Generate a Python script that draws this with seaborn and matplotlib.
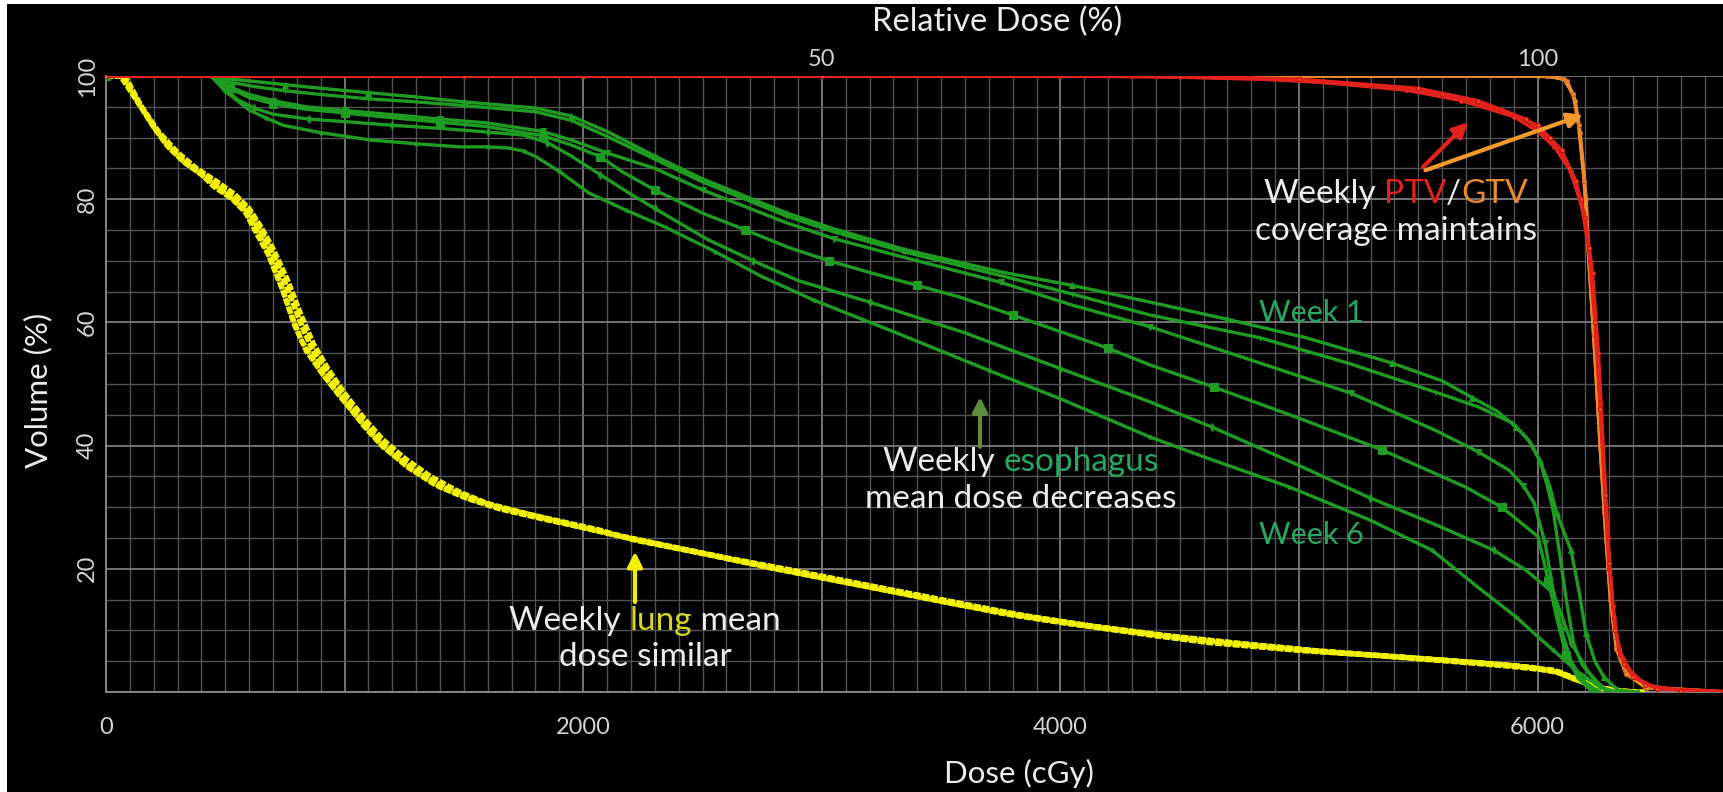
import matplotlib
matplotlib.use("Agg")
import matplotlib.pyplot as plt
import numpy as np
import pandas as pd
import seaborn as sns
from matplotlib.offsetbox import TextArea, HPacker, VPacker, AnnotationBbox
from matplotlib.patches import Rectangle
from matplotlib.ticker import MultipleLocator, FuncFormatter

# ---------------- DVH data: dose (cGy) -> volume (%) ----------------
# Lung, weekly
lung1_dose = [0, 70, 130, 200, 260, 330, 400, 453, 530, 585, 630, 680, 742, 790, 840, 920, 1000, 1080,
              1160, 1280, 1400, 1520, 1640, 1850, 2070, 2210, 2500, 2770, 3050, 3330, 3750, 4000, 4380,
              4600, 4990, 5300, 5600, 5850, 6065, 6140, 6250, 6350, 6450]
lung1_vol = [100, 100, 96, 91.7, 88.5, 85.9, 84, 82, 80, 77.8, 74.5, 71, 65, 59.5, 55.3, 51, 47.2, 43.2,
             39.8, 36.2, 33.3, 31.5, 30, 28.2, 26.3, 24.7, 22.5, 20.3, 18.2, 16.1, 12.8, 11.3, 9.3,
             8.2, 6.8, 6.0, 5.2, 4.4, 3.6, 2.4, 0.8, 0.1, 0]
lung2_dose = [0, 70, 140, 210, 280, 350, 430, 500, 570, 620, 670, 720, 780, 830, 880, 960, 1040, 1120,
              1200, 1300, 1420, 1540, 1660, 1860, 2080, 2250, 2520, 2800, 3080, 3350, 3780, 4030, 4400,
              4620, 5010, 5320, 5620, 5870, 6070, 6150, 6260, 6360, 6450]
lung2_vol = [100, 100, 95.5, 91.2, 88, 85.5, 83.5, 81.5, 79.5, 77, 73.5, 69.5, 63.5, 58.5, 54.5, 49.8,
             45.5, 41.7, 38.6, 35.8, 33.2, 31.3, 29.8, 28.0, 26.0, 24.4, 22.3, 20.0, 17.9, 15.9, 12.6,
             11.1, 9.1, 8.0, 6.7, 5.9, 5.0, 4.2, 3.4, 2.1, 0.7, 0.1, 0]
lung3_dose = [0, 80, 150, 220, 300, 380, 460, 540, 600, 650, 700, 760, 820, 870, 930, 1000, 1080, 1160,
              1250, 1360, 1480, 1600, 1760, 1960, 2150, 2400, 2650, 2900, 3200, 3550, 3900, 4200, 4500,
              4800, 5150, 5450, 5750, 5980, 6100, 6200, 6300, 6400]
lung3_vol = [100, 100, 95, 91, 87.6, 85, 83, 80.8, 78.5, 75.5, 72, 67, 61, 56.5, 52.5, 48.5, 44.5, 41,
             38, 35, 32.5, 30.6, 29, 27, 25.3, 23.3, 21.3, 19.3, 17, 14.3, 12, 10.3, 8.8,
             7.6, 6.4, 5.6, 4.8, 4.0, 3.0, 1.4, 0.3, 0]
lung4_dose = [0, 60, 120, 190, 250, 320, 390, 450, 520, 575, 620, 665, 720, 770, 820, 900, 980, 1060,
              1150, 1260, 1380, 1500, 1650, 1850, 2050, 2300, 2600, 2900, 3200, 3500, 3850, 4150, 4450,
              4750, 5100, 5400, 5700, 5950, 6080, 6180, 6280, 6400]
lung4_vol = [100, 100, 96.5, 92.3, 89, 86.3, 84.3, 82.5, 80.3, 78.5, 75.8, 72.5, 67.5, 62, 57, 52, 48,
             44.3, 40.3, 36.6, 33.6, 31.6, 29.7, 27.9, 26.3, 24.1, 21.8, 19.6, 17.3, 15.0, 12.4, 10.6,
             9.1, 7.9, 6.6, 5.8, 4.9, 4.1, 3.2, 1.8, 0.5, 0]
lung5_dose = [0, 75, 135, 205, 270, 340, 415, 480, 555, 610, 660, 705, 760, 810, 860, 940, 1020, 1100,
              1180, 1290, 1410, 1530, 1700, 1900, 2100, 2350, 2620, 2880, 3150, 3450, 3800, 4100, 4420,
              4700, 5050, 5350, 5650, 5900, 6090, 6190, 6300, 6420]
lung5_vol = [100, 100, 95.8, 91.5, 88.2, 85.7, 83.7, 81.8, 79.6, 77.2, 74, 70.5, 65.5, 60.5, 56, 51.3,
             47, 43, 39.5, 36, 33.2, 31.2, 29.3, 27.6, 25.8, 23.8, 21.6, 19.7, 17.6, 15.4, 12.7, 10.9,
             9.3, 8.1, 6.8, 5.9, 5.0, 4.3, 3.3, 1.7, 0.4, 0]

# Esophagus, week 1 to week 6
eso_w1_dose = [0, 420, 500, 600, 750, 900, 1100, 1300, 1500, 1800, 1950, 2100, 2300, 2500, 2850, 3050,
               3350, 3750, 4050, 4375, 4700, 5030, 5390, 5600, 5725, 5830, 5910, 5970, 6010, 6050, 6080,
               6110, 6140, 6175, 6202, 6240, 6278, 6337, 6420]
eso_w1_vol = [100, 100, 99.6, 99.2, 98.6, 98, 97.3, 96.6, 95.8, 94.8, 93.5, 91, 87, 83.3, 77.8, 75.2,
              71.8, 68.2, 66, 63.3, 60.5, 57.5, 53.4, 50.5, 47.8, 45.6, 43, 40.5, 37.5, 33.5, 29,
              26, 23, 16, 9.6, 5, 2.4, 0.3, 0]
eso_w2_dose = [0, 430, 520, 620, 750, 900, 1100, 1300, 1500, 1800, 1950, 2100, 2300, 2500, 2850, 3050,
               3350, 3750, 4050, 4375, 4836, 5205, 5570, 5750, 5893, 5960, 6010, 6040, 6065, 6090, 6120,
               6150, 6185, 6215, 6260, 6310]
eso_w2_vol = [100, 100, 99, 98.3, 97.6, 97, 96.3, 95.8, 95.2, 94.2, 92.8, 90.2, 86.5, 82.8, 77.3, 74.7,
              71.4, 67.6, 64.6, 61.2, 57.5, 53.4, 48.7, 46.3, 43.7, 41, 37.5, 33.5, 29.5, 23, 15,
              8, 4.5, 3.1, 1, 0]
eso_w3_dose = [0, 440, 500, 600, 700, 838, 1000, 1207, 1400, 1593, 1831, 1950, 2100, 2300, 2500, 2850,
               3050, 3350, 3750, 4050, 4375, 4836, 5218, 5570, 5750, 5880, 5940, 5985, 6031, 6065, 6100,
               6140, 6190, 6260]
eso_w3_vol = [100, 100, 98.5, 97, 96, 95, 94.4, 93.7, 93, 92.4, 91, 89.6, 87.5, 85, 81.5, 76.2,
              73.6, 70.5, 66.5, 62.8, 59.3, 53.4, 48.5, 42.5, 39, 36, 33.5, 30.7, 24.2, 16.5, 10,
              5, 1.8, 0]
eso_w4_dose = [0, 450, 520, 600, 700, 838, 1000, 1207, 1400, 1593, 1831, 1950, 2071, 2166, 2300, 2502,
               2680, 2858, 3030, 3210, 3400, 3579, 3800, 4000, 4200, 4375, 4643, 4996, 5348, 5696, 5850,
               6002, 6045, 6080, 6120, 6170, 6230]
eso_w4_vol = [100, 100, 98, 96.5, 95.5, 94.6, 94, 93.2, 92.5, 91.8, 90.3, 88.8, 86.9, 84.4, 81.5, 77.7,
              75, 72.2, 70, 68, 66, 64.1, 61.2, 58.5, 55.8, 53.1, 49.5, 44.5, 39.3, 33.3, 30,
              25.2, 18, 12, 6, 2.2, 0]
eso_w5_dose = [0, 440, 500, 550, 620, 700, 850, 1000, 1200, 1400, 1600, 1750, 1850, 1950, 2071, 2200,
               2300, 2519, 2712, 2900, 3200, 3600, 4000, 4375, 4635, 4958, 5298, 5570, 5817, 5950, 6065,
               6100, 6140, 6215, 6290]
eso_w5_vol = [100, 100, 98, 96.2, 94.8, 93.8, 93, 92.6, 92, 91.5, 90.9, 90.4, 89.2, 87, 84, 80.8,
              78.5, 73.5, 70, 66.8, 63.3, 58.3, 52.5, 47.1, 43, 37.5, 31.5, 27.2, 23, 19.8, 16.1,
              12.5, 8, 3.1, 0]
eso_w6_dose = [0, 440, 500, 599, 670, 742, 900, 1111, 1300, 1480, 1600, 1689, 1750, 1802, 1900, 2024,
               2180, 2342, 2552, 2745, 2967, 3300, 3700, 4000, 4375, 4606, 4958, 5298, 5558, 5750, 5909,
               6000, 6065, 6157, 6261, 6330]
eso_w6_vol = [100, 100, 97.5, 94.5, 93.2, 92, 90.8, 89.6, 89, 88.5, 88.5, 88.3, 87.8, 86.9, 84.5, 81,
              78.2, 75.5, 71.5, 67.5, 63.6, 58.5, 52.2, 47.6, 41.4, 38.1, 33.3, 27.9, 23, 17, 12.2,
              9, 6.8, 3.6, 0.8, 0]

# PTV, weekly
ptv1_dose = [0, 1500, 3000, 4000, 4500, 5000, 5450, 5680, 5900, 6000, 6070, 6140, 6190, 6220, 6245,
             6265, 6285, 6300, 6320, 6345, 6400, 6500, 6780]
ptv1_vol = [100, 100, 100, 100, 99.8, 99.3, 97.7, 96, 93.4, 91, 88.5, 84.5, 78, 70, 58,
            45, 30, 20, 12, 6, 2.4, 0.6, 0.1]
ptv2_dose = [0, 1500, 3000, 4300, 4800, 5300, 5600, 5850, 6000, 6100, 6160, 6200, 6230, 6255, 6275,
             6295, 6315, 6340, 6400, 6500, 6780]
ptv2_vol = [100, 100, 100, 100, 99.6, 98.5, 97, 94.5, 92, 88, 83, 77, 68, 55, 40,
            25, 14, 7, 2.5, 0.5, 0]
ptv3_dose = [0, 1500, 3000, 4500, 5000, 5500, 5750, 5950, 6050, 6130, 6180, 6215, 6240, 6262, 6282,
             6300, 6325, 6360, 6450, 6600, 6780]
ptv3_vol = [100, 100, 100, 100, 99.5, 98, 96, 93, 90, 85, 80, 72, 60, 46, 32,
            21, 10, 4.5, 1.2, 0.2, 0]

# GTV, weekly
gtv1_dose = [0, 2000, 4000, 6000, 6080, 6123, 6157, 6178, 6203, 6215, 6240, 6262, 6285, 6305, 6330,
             6370, 6450, 6780]
gtv1_vol = [100, 100, 100, 100, 99.8, 99.2, 96, 90.7, 80, 70, 55, 40, 26, 15, 7, 3, 0.8, 0]
gtv2_dose = [0, 2000, 4000, 6040, 6110, 6150, 6172, 6195, 6212, 6235, 6258, 6280, 6300, 6325, 6365,
             6460, 6780]
gtv2_vol = [100, 100, 100, 100, 99.5, 97, 92, 83, 72, 58, 43, 29, 18, 9, 3.5, 0.7, 0]

# Axis ticks
dose_ticks = [0, 2000, 4000, 6000]
volume_ticks = [20, 40, 60, 80, 100]
relative_ticks = [50, 100]
prescription_cgy = 60.0  # cGy per 1 % of relative dose

# ---------------- styling ----------------
sns.set_theme(style="dark")
FONT = ["Lato", "DejaVu Sans"]
plt.rcParams["font.family"] = FONT

WHITE = "#ececec"
TICK = "#d4d4d4"
LUNG = "#f2f200"
ESO = "#1f9d22"
PTV = "#e3221b"
GTV = "#ee8a2e"
ESO_TEXT = "#25a862"

fig = plt.figure(figsize=(17.24, 7.92), dpi=100)
fig.patch.set_facecolor("white")
fig.add_artist(Rectangle((7 / 1724, 0), 1, 1 - 4 / 792, transform=fig.transFigure,
                         facecolor="black", edgecolor="none", zorder=-10))

ax = fig.add_axes([106 / 1724, 100 / 792, 1618 / 1724, 616 / 792])
ax.set_facecolor("black")


def curve(dose, vol, **kw):
    df = pd.DataFrame({"dose": dose, "volume": vol})
    sns.lineplot(data=df, x="dose", y="volume", ax=ax, sort=False, estimator=None,
                 legend=False, **kw)


# lungs: thick dashed yellow traces
for d, v in [(lung1_dose, lung1_vol), (lung2_dose, lung2_vol), (lung3_dose, lung3_vol),
             (lung4_dose, lung4_vol), (lung5_dose, lung5_vol)]:
    curve(d, v, color=LUNG, lw=3.6, linestyle=(0, (1.4, 0.35)), zorder=3)

# esophagus weeks
eso_sets = [
    (eso_w1_dose, eso_w1_vol, "^", 4),
    (eso_w2_dose, eso_w2_vol, "|", 5),
    (eso_w3_dose, eso_w3_vol, "v", 4),
    (eso_w4_dose, eso_w4_vol, "s", 6),
    (eso_w5_dose, eso_w5_vol, "d", 4),
    (eso_w6_dose, eso_w6_vol, ".", 5),
]
for d, v, m, ms in eso_sets:
    curve(d, v, color=ESO, lw=2.4, marker=m, markersize=ms, markeredgecolor=ESO,
          markerfacecolor=ESO, markevery=2, zorder=4)

# GTV and PTV
for d, v in [(gtv1_dose, gtv1_vol), (gtv2_dose, gtv2_vol)]:
    curve(d, v, color=GTV, lw=2.6, marker="o", markersize=3, markeredgecolor="#c9661c",
          markerfacecolor=GTV, markevery=1, zorder=5)
for d, v in [(ptv1_dose, ptv1_vol), (ptv2_dose, ptv2_vol), (ptv3_dose, ptv3_vol)]:
    curve(d, v, color=PTV, lw=2.4, marker="o", markersize=3, markeredgecolor="#b8160f",
          markerfacecolor="#ff4a2a", markevery=1, zorder=6)

# ---------------- axes ----------------
ax.set_xlim(0, 6781)
ax.set_ylim(0, 100)
ax.xaxis.set_major_locator(MultipleLocator(1000))
ax.xaxis.set_minor_locator(MultipleLocator(100))
ax.yaxis.set_major_locator(MultipleLocator(20))
ax.yaxis.set_minor_locator(MultipleLocator(5))
ax.xaxis.set_major_formatter(FuncFormatter(lambda v, p: f"{v:.0f}" if round(v) in dose_ticks else ""))
ax.yaxis.set_major_formatter(FuncFormatter(lambda v, p: f"{v:.0f}" if round(v) in volume_ticks else ""))

ax.grid(which="minor", color="#525252", lw=1.0)
ax.grid(which="major", color="#7c7c7c", lw=1.3)
ax.set_axisbelow(True)
for s in ["top", "right"]:
    ax.spines[s].set_visible(False)
for s in ["left", "bottom"]:
    ax.spines[s].set_color("#8a8a8a")
    ax.spines[s].set_linewidth(1.3)

ax.tick_params(axis="x", which="major", colors="#8a8a8a", labelcolor=TICK, length=4,
               labelsize=17, pad=14)
ax.tick_params(axis="y", which="major", colors="#8a8a8a", labelcolor=TICK, length=4,
               labelsize=17, pad=2, labelrotation=90)
ax.tick_params(which="minor", length=0)
for lab in ax.get_yticklabels():
    lab.set_va("center")

ax.set_xlabel("Dose (cGy)", color=WHITE, fontsize=22.5)
ax.xaxis.set_label_coords(0.564, -0.1315)
ax.xaxis.label.set_va("center")
ax.set_ylabel("Volume (%)", color=WHITE, fontsize=22.5)
ax.yaxis.set_label_coords(-0.042, 0.49)
ax.yaxis.label.set_va("center")

top = ax.secondary_xaxis("top", functions=(lambda d: d / prescription_cgy,
                                           lambda r: r * prescription_cgy))
top.set_xticks(relative_ticks)
top.tick_params(length=0, labelcolor=TICK, labelsize=17, pad=4)
top.spines["top"].set_visible(False)
top.set_xlabel("Relative Dose (%)", color=WHITE, fontsize=23.5)
top.xaxis.set_label_coords(0.551, 1.0877, transform=ax.transAxes)
top.xaxis.label.set_va("center")


# ---------------- annotations ----------------
def rich_label(rows, xy, size, sep=0):
    packed = []
    for parts in rows:
        areas = [TextArea(txt, textprops=dict(color=col, fontsize=size, fontfamily=FONT))
                 for txt, col in parts]
        packed.append(HPacker(children=areas, align="baseline", pad=0, sep=0))
    box = VPacker(children=packed, align="center", pad=0, sep=sep)
    ab = AnnotationBbox(box, xy, xycoords="data", frameon=False, box_alignment=(0.5, 0.5),
                        pad=0, zorder=10)
    ax.add_artist(ab)


def arrow(tail, head, color):
    ax.annotate("", xy=head, xytext=tail, xycoords="data",
                arrowprops=dict(arrowstyle="-|>", color=color, lw=3, mutation_scale=22,
                                shrinkA=0, shrinkB=0), zorder=9)


rich_label([[("Weekly ", WHITE), ("PTV", PTV), ("/", WHITE), ("GTV", GTV)],
            [("coverage maintains", WHITE)]], (5406, 77.9), 24, sep=5)
arrow((5519, 85.2), (5708, 92.5), PTV)
arrow((5530, 84.7), (6190, 93.7), "#f39a2c")

rich_label([[("Weekly ", WHITE), ("esophagus", ESO_TEXT)],
            [("mean dose decreases", WHITE)]], (3834, 34.4), 24, sep=5)
arrow((3663, 39.8), (3663, 47.9), "#5c8c3c")

rich_label([[("Weekly ", WHITE), ("lung", "#d6d622"), (" mean", WHITE)],
            [("dose similar", WHITE)]], (2259, 8.6), 24, sep=5)
arrow((2217, 14.6), (2217, 22.8), LUNG)

ax.text(5050, 61.5, "Week 1", color=ESO_TEXT, fontsize=22, ha="center", va="center", zorder=10)
ax.text(5050, 25.5, "Week 6", color=ESO_TEXT, fontsize=22, ha="center", va="center", zorder=10)

fig.savefig("out.png", dpi=100, facecolor=fig.get_facecolor())
